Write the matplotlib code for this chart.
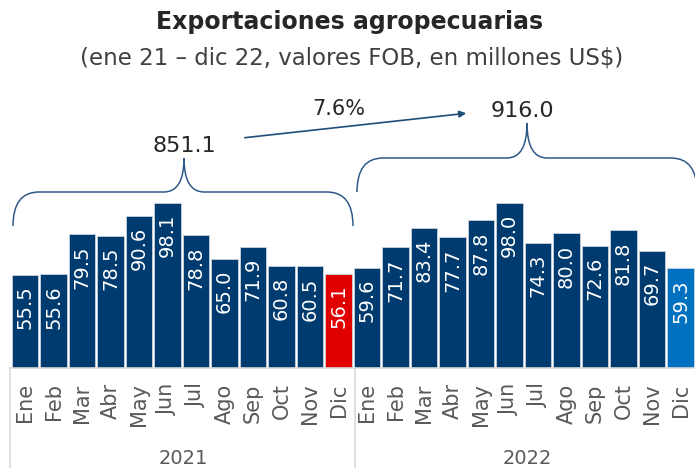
import matplotlib.pyplot as plt
from matplotlib.path import Path
from matplotlib.patches import PathPatch

plt.rcParams['font.family'] = ['DejaVu Sans']

meses = ["Ene", "Feb", "Mar", "Abr", "May", "Jun", "Jul", "Ago", "Sep", "Oct", "Nov", "Dic"]
anios = ["2021", "2022"]
valores_2021 = [55.5, 55.6, 79.5, 78.5, 90.6, 98.1, 78.8, 65.0, 71.9, 60.8, 60.5, 56.1]
valores_2022 = [59.6, 71.7, 83.4, 77.7, 87.8, 98.0, 74.3, 80.0, 72.6, 81.8, 69.7, 59.3]
totales = [851.1, 916.0]
variacion = "7.6%"

navy = "#003B6F"
rojo = "#E00000"
azul = "#0070C0"
gris = "#595959"
linea = "#D9D9D9"
brace_col = "#2E5A88"

W, H = 695, 468
fig = plt.figure(figsize=(W / 100, H / 100), dpi=100)

# bars axes, baseline at 368 px from top
base = 368
px_unit = 1.682
x0, pitch = 25.1, 28.5
ax = fig.add_axes([0, (H - base) / H, 1, base / H])
ax.set_ylim(0, base / px_unit)
ax.set_xlim(-x0 / pitch, (W - x0) / pitch)

valores = valores_2021 + valores_2022
colores = [navy] * 11 + [rojo] + [navy] * 11 + [azul]
pos = list(range(len(valores)))
ax.bar(pos, valores, width=0.93, color=colores, edgecolor="#C9D3DF", linewidth=0.6)
for i, v in zip(pos, valores):
    ax.text(i, v - 11 / px_unit, f"{v:.1f}", rotation=90, ha="center", va="top",
            color="white", fontsize=14)

ax.set_xticks(pos)
ax.set_xticklabels(meses * 2, rotation=90, color=gris, fontsize=15)
ax.tick_params(axis="x", length=0, pad=11)
ax.set_yticks([])
for s in ax.spines.values():
    s.set_visible(False)

# overlay in pixel coords for decorations
ov = fig.add_axes([0, 0, 1, 1], facecolor="none")
ov.set_xlim(0, W)
ov.set_ylim(H, 0)
ov.axis("off")

ov.plot([10, W], [base, base], color=linea, lw=1.2)
for xs in [10, 355]:
    ov.plot([xs, xs], [base, H], color=linea, lw=1.2)

centros_anio = [183, 527]
for xc, a in zip(centros_anio, anios):
    ov.text(xc, 458, a, ha="center", va="center", color=gris, fontsize=14)


def brace(xl, xr, y_end, y_h, xt, y_tip, rx=26, rt=20):
    verts = [(xl, y_end), (xl, y_h), (xl + rx, y_h),
             (xt - rt, y_h),
             (xt, y_h), (xt, y_tip),
             (xt, y_h), (xt + rt, y_h),
             (xr - rx, y_h),
             (xr, y_h), (xr, y_end)]
    codes = [Path.MOVETO, Path.CURVE3, Path.CURVE3,
             Path.LINETO,
             Path.CURVE3, Path.CURVE3,
             Path.CURVE3, Path.CURVE3,
             Path.LINETO,
             Path.CURVE3, Path.CURVE3]
    ov.add_patch(PathPatch(Path(verts, codes), fill=False, edgecolor=brace_col, lw=1.1))


brace(13, 353, 226, 192, 184, 158)
brace(357, 697, 192, 158, 527, 123)

ov.text(184, 146, f"{totales[0]:.1f}", ha="center", va="center", fontsize=16, color="#262626")
ov.text(522, 111, f"{totales[1]:.1f}", ha="center", va="center", fontsize=16, color="#262626")
ov.text(339, 109, variacion, ha="center", va="center", fontsize=15, color="#262626")
ov.annotate("", xy=(469, 113), xytext=(242, 138),
            arrowprops=dict(arrowstyle="-|>", color="#1F4E79", lw=1.2, mutation_scale=10))

ov.text(W / 2 + 2, 22, "Exportaciones agropecuarias", ha="center", va="center",
        fontsize=17, fontweight="bold", color="#262626")
ov.text(W / 2 + 4, 58, "(ene 21 – dic 22, valores FOB, en millones US$)", ha="center", va="center",
        fontsize=16.5, color="#404040")

fig.savefig("out.png", dpi=100)
